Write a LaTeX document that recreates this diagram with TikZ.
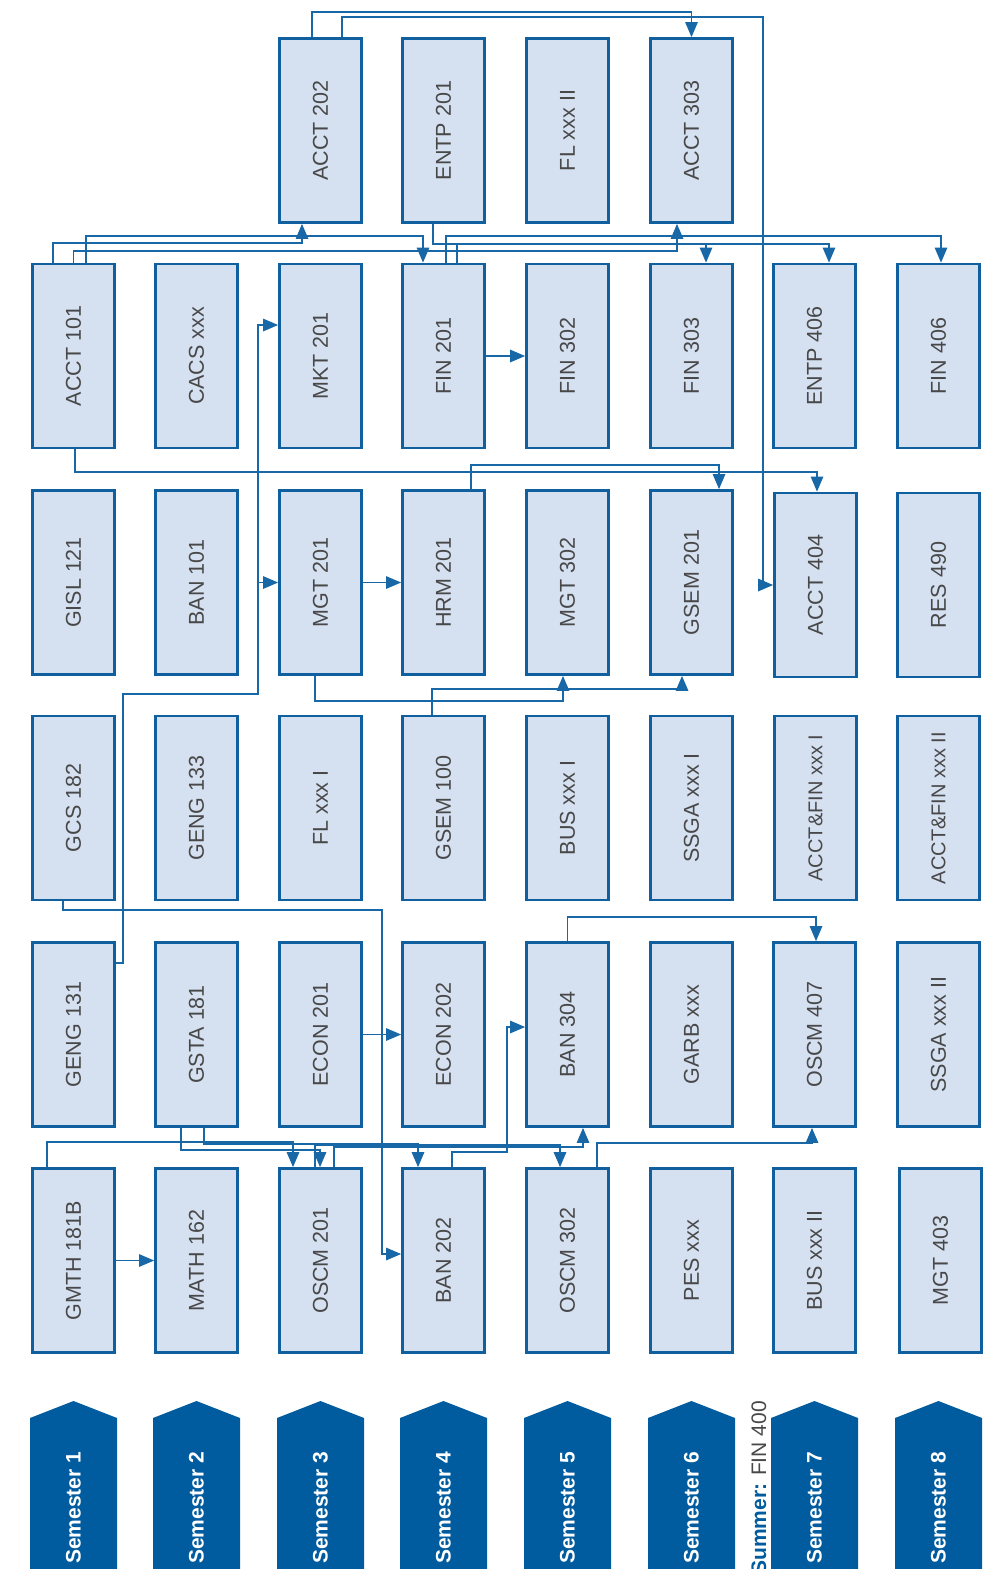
\documentclass[tikz,border=0pt]{standalone}
\usepackage{fontspec}
\setmainfont{Liberation Sans}
\usepackage{graphicx}
\usetikzlibrary{arrows.meta,calc}
\definecolor{boxfill}{RGB}{213,224,241}
\definecolor{boxline}{RGB}{16,96,160}
\definecolor{conncol}{RGB}{24,104,168}
\definecolor{semblue}{RGB}{0,92,158}
\definecolor{txtgray}{RGB}{72,72,72}
\begin{document}
\begin{tikzpicture}[x=1pt,y=-1pt,
 course/.style={draw=boxline, line width=2.8pt, fill=boxfill, minimum width=82pt, minimum height=184pt, inner sep=0pt, font=\fontsize{21.5}{21.5}\selectfont, text=txtgray},
 conn/.style={draw=conncol, line width=1.3pt, -{Triangle[length=15pt,width=12.5pt]}},
 semtext/.style={rotate=90, anchor=west, inner sep=0pt, text=white, font=\bfseries\fontsize{21}{21}\selectfont},
]
\fill[white] (0,0) rectangle (995,1569);
\useasboundingbox (0,0) rectangle (995,1569);

% row 0
\node[course] (acct202) at (320.5,130.5) {\rotatebox{90}{ACCT 202}};
\node[course] (entp201) at (443.5,130.5) {\rotatebox{90}{ENTP 201}};
\node[course] (flxxxii) at (567.5,130.5) {\rotatebox{90}{FL xxx II}};
\node[course] (acct303) at (691.5,130.5) {\rotatebox{90}{ACCT 303}};
% row 1
\node[course] (acct101) at (73.5,356) {\rotatebox{90}{ACCT 101}};
\node[course] (cacs)    at (196.5,356) {\rotatebox{90}{CACS xxx}};
\node[course] (mkt201)  at (320.5,356) {\rotatebox{90}{MKT 201}};
\node[course] (fin201)  at (443.5,356) {\rotatebox{90}{FIN 201}};
\node[course] (fin302)  at (567.5,356) {\rotatebox{90}{FIN 302}};
\node[course] (fin303)  at (691.5,356) {\rotatebox{90}{FIN 303}};
\node[course] (entp406) at (814.5,356) {\rotatebox{90}{ENTP 406}};
\node[course] (fin406)  at (938.5,356) {\rotatebox{90}{FIN 406}};
% row 2
\node[course] (gisl121) at (73.5,582.5) {\rotatebox{90}{GISL 121}};
\node[course] (ban101)  at (196.5,582.5) {\rotatebox{90}{BAN 101}};
\node[course] (mgt201)  at (320.5,582.5) {\rotatebox{90}{MGT 201}};
\node[course] (hrm201)  at (443.5,582.5) {\rotatebox{90}{HRM 201}};
\node[course] (mgt302)  at (567.5,582.5) {\rotatebox{90}{MGT 302}};
\node[course] (gsem201) at (691.5,582.5) {\rotatebox{90}{GSEM 201}};
\node[course] (acct404) at (815.5,585) {\rotatebox{90}{ACCT 404}};
\node[course] (res490)  at (938.5,585) {\rotatebox{90}{RES 490}};
% row 3
\node[course] (gcs182)  at (73.5,808) {\rotatebox{90}{GCS 182}};
\node[course] (geng133) at (196.5,808) {\rotatebox{90}{GENG 133}};
\node[course] (flxxxi)  at (320.5,808) {\rotatebox{90}{FL xxx I}};
\node[course] (gsem100) at (443.5,808) {\rotatebox{90}{GSEM 100}};
\node[course] (busxxxi) at (567.5,808) {\rotatebox{90}{BUS xxx I}};
\node[course] (ssgai)   at (691.5,808) {\rotatebox{90}{SSGA xxx I}};
\node[course] (afi)     at (815.5,808) {\rotatebox{90}{\fontsize{20}{20}\selectfont ACCT\&FIN xxx I}};
\node[course] (afii)    at (938.5,808) {\rotatebox{90}{\fontsize{20}{20}\selectfont ACCT\&FIN xxx II}};
% row 4
\node[course] (geng131) at (73.5,1034.5) {\rotatebox{90}{GENG 131}};
\node[course] (gsta181) at (196.5,1034.5) {\rotatebox{90}{GSTA 181}};
\node[course] (econ201) at (320.5,1034.5) {\rotatebox{90}{ECON 201}};
\node[course] (econ202) at (443.5,1034.5) {\rotatebox{90}{ECON 202}};
\node[course] (ban304)  at (567.5,1034.5) {\rotatebox{90}{BAN 304}};
\node[course] (garb)    at (691.5,1034.5) {\rotatebox{90}{GARB xxx}};
\node[course] (oscm407) at (814.5,1034.5) {\rotatebox{90}{OSCM 407}};
\node[course] (ssgaii)  at (938.5,1034.5) {\rotatebox{90}{SSGA xxx II}};
% row 5
\node[course] (gmth181b) at (73.5,1260.5) {\rotatebox{90}{GMTH 181B}};
\node[course] (math162)  at (196.5,1260.5) {\rotatebox{90}{MATH 162}};
\node[course] (oscm201)  at (320.5,1260.5) {\rotatebox{90}{OSCM 201}};
\node[course] (ban202)   at (443.5,1260.5) {\rotatebox{90}{BAN 202}};
\node[course] (oscm302)  at (567.5,1260.5) {\rotatebox{90}{OSCM 302}};
\node[course] (pes)      at (691.5,1260.5) {\rotatebox{90}{PES xxx}};
\node[course] (busxxxii) at (814.5,1260.5) {\rotatebox{90}{BUS xxx II}};
\node[course] (mgt403)   at (940.5,1260.5) {\rotatebox{90}{MGT 403}};

% semester banners
\foreach \cx/\n in {73.5/1,196.5/2,320.5/3,443.5/4,567.5/5,691.5/6,814.5/7,938.5/8}{
  \fill[semblue] (\cx-43.5,1572) -- (\cx-43.5,1418) -- (\cx,1401) -- (\cx+43.5,1418) -- (\cx+43.5,1572) -- cycle;
  \node[semtext] (sem\n) at (\cx,1564) {Semester \n};
}
\node[rotate=90, anchor=east, inner sep=0pt, font=\fontsize{21}{21}\selectfont] (summer) at (759,1401) {\textcolor{semblue}{\bfseries Summer:} \textcolor{txtgray}{FIN 400}};

% connectors - top
\draw[conn] ([xshift=-8.5pt]acct202.north) |- (691.5,12) -- (acct303.north);
\draw[conn] ([xshift=21.5pt]acct202.north) |- (763,17) |- (acct404.west);
\draw[conn] ([xshift=-20.5pt]acct101.north) |- (302,243) -- ([xshift=-18.5pt]acct202.south);
\draw[conn] ([xshift=12.5pt]acct101.north) |- (423,236) -- ([xshift=-20.5pt]fin201.north);
\draw[conn] (acct101.north) |- (677,251) -- ([xshift=-14.5pt]acct303.south);
\draw[conn] ([xshift=2.5pt]fin201.north) |- (941,236) -- ([xshift=2.5pt]fin406.north);
\draw[conn] ([xshift=-10.5pt]entp201.south) |- (829,244) -- ([xshift=14.5pt]entp406.north);
\draw[conn] ([xshift=13.5pt]fin201.north) |- (706,244) -- ([xshift=14.5pt]fin303.north);
\draw[conn] (fin201.east) -- (fin302.west);
% middle
\draw[conn] ([xshift=1.5pt]acct101.south) |- (817,472) -- ([xshift=1.5pt]acct404.north);
\draw[conn] ([xshift=27.5pt]hrm201.north) |- (719,465) -- ([xshift=27.5pt]gsem201.north);
\draw[conn] (mgt201.east) -- (hrm201.west);
\draw[conn] ([xshift=-5.5pt]mgt201.south) |- (563,701) -- ([xshift=-4.5pt]mgt302.south);
\draw[conn] ([xshift=-11.5pt]gsem100.north) |- (682,689) -- ([xshift=-9.5pt]gsem201.south);
\draw[conn] ([yshift=71.5pt]geng131.east) -| (123,694) -| (258,582.5) -- (mgt201.west);
\draw[conn] ([yshift=71.5pt]geng131.east) -| (123,694) -| (258,325) -- ([yshift=31pt]mkt201.west);
\draw[conn] ([xshift=-10.5pt]gcs182.south) |- (382,910) |- ([yshift=6.5pt]ban202.west);
% lower
\draw[conn] (gmth181b.east) -- (math162.west);
\draw[conn] (econ201.east) -- (econ202.west);
\draw[conn] (ban304.north) |- (816,917) -- ([xshift=1.5pt]oscm407.north);
\draw[conn] ([xshift=29.5pt]oscm302.north) |- (812,1143) -- ([xshift=-2.5pt]oscm407.south);
\draw[conn] ([xshift=8.5pt]ban202.north) |- (507,1152) |- ([yshift=7.5pt]ban304.west);
\draw[conn] ([xshift=-26.5pt]gmth181b.north) |- (293,1142) -- ([xshift=-27.5pt]oscm201.north);
\draw[conn] ([xshift=-15.5pt]gsta181.south) |- (320,1150) -- ([xshift=-0.5pt]oscm201.north);
\draw[conn] ([xshift=7.5pt]gsta181.south) |- (418,1144) -- ([xshift=-25.5pt]ban202.north);
\draw[conn] ([xshift=-5.5pt]oscm201.north) |- (560,1145) -- ([xshift=-7.5pt]oscm302.north);
\draw[conn] ([xshift=13.5pt]oscm201.north) |- (583,1147) -- ([xshift=15.5pt]ban304.south);
\end{tikzpicture}
\end{document}
